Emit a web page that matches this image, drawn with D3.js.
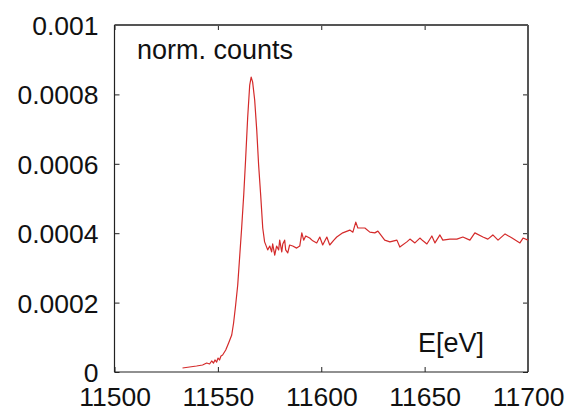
<!DOCTYPE html>
<html><head><meta charset="utf-8">
<script src="https://cdn.jsdelivr.net/npm/d3@7"></script>
<style>body{margin:0;background:#fff}svg{display:block}text{font-family:"Liberation Sans",Arial,sans-serif}</style>
</head><body><svg id="c" width="572" height="410"></svg>
<script>
const energy = [11532.9,11536.3,11539.7,11542.6,11544.6,11546.0,11547.0,11547.9,11548.6,11549.4,11550.1,11550.8,11551.5,11552.3,11553.8,11555.2,11556.7,11557.6,11558.6,11559.6,11560.5,11561.5,11562.5,11563.4,11564.4,11565.4,11566.1,11566.8,11567.8,11568.8,11569.7,11570.7,11571.7,11572.6,11574.1,11575.1,11576.0,11576.5,11577.5,11578.4,11579.4,11579.9,11580.9,11581.4,11582.3,11582.8,11583.8,11584.7,11586.2,11588.1,11589.6,11590.6,11591.5,11592.5,11594.4,11595.9,11597.8,11599.3,11600.7,11602.7,11604.1,11606.1,11607.5,11610.4,11613.8,11615.3,11616.7,11617.7,11621.1,11623.5,11625.9,11627.4,11630.7,11633.2,11636.6,11638.0,11641.4,11642.9,11645.3,11647.7,11649.2,11651.1,11653.5,11655.0,11657.4,11658.8,11662.2,11665.6,11668.5,11671.9,11674.3,11678.2,11680.6,11683.0,11685.5,11688.9,11692.3,11696.1,11697.6,11700];
const counts = [0.0000115,0.0000144,0.0000173,0.0000202,0.0000259,0.0000231,0.0000317,0.0000259,0.0000346,0.0000288,0.0000403,0.0000346,0.0000461,0.000049,0.0000634,0.0000836,0.0001066,0.0001412,0.0001931,0.0002507,0.0003285,0.000415,0.00051,0.000611,0.000732,0.000827,0.00085,0.000836,0.000784,0.000697,0.000597,0.00051,0.000415,0.000375,0.000352,0.000363,0.000346,0.000369,0.000337,0.000363,0.000352,0.00038,0.000346,0.000369,0.00038,0.000352,0.000343,0.000366,0.000363,0.000357,0.000363,0.000401,0.00038,0.000392,0.000386,0.000378,0.000372,0.000389,0.000366,0.000389,0.000366,0.00038,0.000389,0.000401,0.000409,0.000403,0.000432,0.000415,0.000415,0.000403,0.000401,0.000406,0.00038,0.000375,0.00038,0.00036,0.000375,0.000383,0.000372,0.000386,0.000378,0.000369,0.000392,0.000372,0.000395,0.00038,0.000383,0.000383,0.000389,0.00038,0.000401,0.000389,0.000383,0.000395,0.00038,0.000398,0.000386,0.000372,0.000386,0.00038];
const xTicks = [11500,11550,11600,11650,11700];
const yTicks = [0,0.0002,0.0004,0.0006,0.0008,0.001];
const yTickLabels = ["0","0.0002","0.0004","0.0006","0.0008","0.001"];

const L=114.5,R=528,T=25,B=372;
const FS=26.5;
const svg=d3.select("#c");
const x=d3.scaleLinear().domain([11500,11700]).range([L,R]);
const y=d3.scaleLinear().domain([0,0.001]).range([B,T]);

const tl=5;
svg.append("g").attr("transform",`translate(0,${B})`)
  .call(d3.axisBottom(x).tickValues(xTicks).tickSize(-tl).tickFormat(d=>d).tickPadding(tl+9))
  .call(g=>{g.select(".domain").remove();g.selectAll("line").attr("stroke","#222");
    g.selectAll("text").attr("font-size",FS).attr("fill","#111").attr("dy","0.76em").attr("font-family","Liberation Sans, Arial, sans-serif");});
svg.append("g").attr("transform",`translate(0,${T})`)
  .call(d3.axisTop(x).tickValues(xTicks).tickSize(-tl).tickFormat(""))
  .call(g=>{g.select(".domain").remove();g.selectAll("line").attr("stroke","#222");});
svg.append("g").attr("transform",`translate(${L},0)`)
  .call(d3.axisLeft(y).tickValues(yTicks).tickSize(-tl).tickFormat((d,i)=>yTickLabels[i]).tickPadding(tl+11))
  .call(g=>{g.select(".domain").remove();g.selectAll("line").attr("stroke","#222");
    g.selectAll("text").attr("font-size",FS).attr("fill","#111").attr("dy","0.36em").attr("font-family","Liberation Sans, Arial, sans-serif");});
svg.append("g").attr("transform",`translate(${R},0)`)
  .call(d3.axisRight(y).tickValues(yTicks).tickSize(-tl).tickFormat(""))
  .call(g=>{g.select(".domain").remove();g.selectAll("line").attr("stroke","#222");});

svg.append("line").attr("x1",L).attr("x2",R).attr("y1",T).attr("y2",T).attr("stroke","#555").attr("stroke-width",2);
svg.append("line").attr("x1",R).attr("x2",R).attr("y1",T).attr("y2",B).attr("stroke","#555").attr("stroke-width",2);
svg.append("line").attr("x1",L).attr("x2",L).attr("y1",T).attr("y2",B).attr("stroke","#222").attr("stroke-width",1.2);
svg.append("line").attr("x1",L).attr("x2",R).attr("y1",B).attr("y2",B).attr("stroke","#222").attr("stroke-width",1.2);

const data=energy.map((e,i)=>[e,counts[i]]);
svg.append("path").datum(data)
  .attr("d",d3.line().x(d=>x(d[0])).y(d=>y(d[1])))
  .attr("fill","none").attr("stroke","#d42a2a").attr("stroke-width",1.2).attr("stroke-linejoin","round");

svg.append("text").attr("x",137).attr("y",59).attr("font-size",FS+0.5).attr("fill","#111").text("norm. counts");
svg.append("text").attr("x",418).attr("y",352).attr("font-size",FS+0.5).attr("fill","#111").text("E[eV]");
</script></body></html>
